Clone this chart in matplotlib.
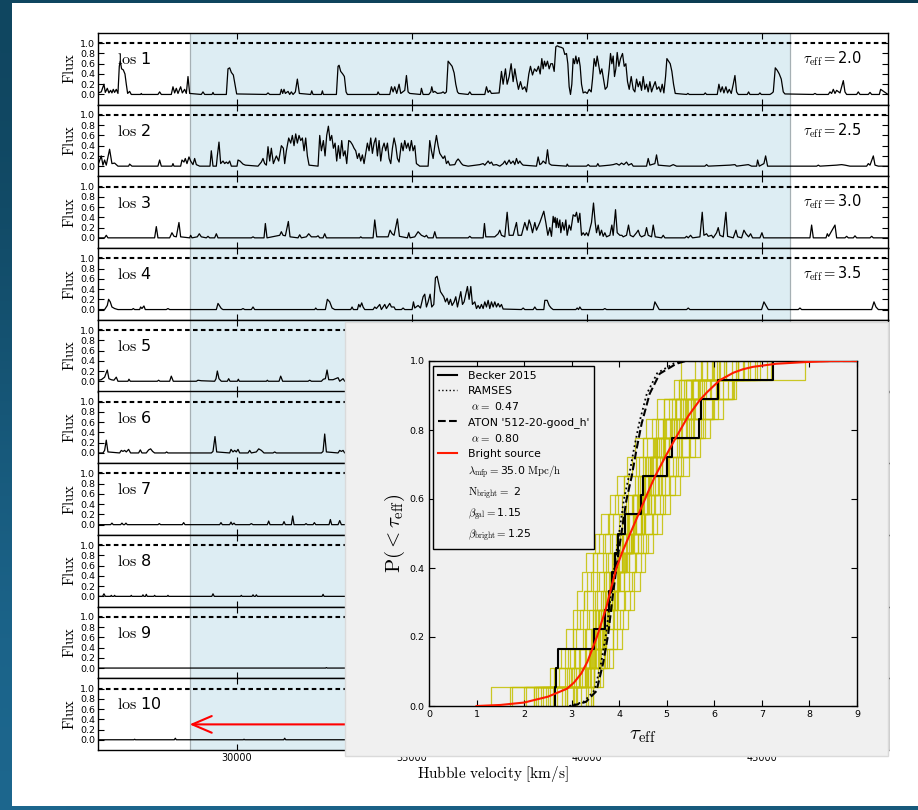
import numpy as np
import matplotlib.pyplot as plt
from matplotlib.patches import Rectangle
from matplotlib.lines import Line2D
from matplotlib.colors import LinearSegmentedColormap

plt.rcParams['mathtext.fontset'] = 'cm'
plt.rcParams['font.family'] = ['DejaVu Sans']

# transmitted flux along each line of sight: (Hubble velocity [km/s], flux)
los1 = [(26038, 0.03), (26133, 0.05), (26210, 0.2), (26248, 0.04), (26305, 0.12), (26352, 0.03),
        (26400, 0.08), (26438, 0.03), (26476, 0.1), (26514, 0.04), (26562, 0.1), (26610, 0.02),
        (26648, 0.55), (26676, 0.65), (26714, 0.5), (26762, 0.48), (26810, 0.4), (26848, 0.2),
        (26886, 0.02), (26943, 0.06), (26990, 0.0), (27257, 0.0), (27276, 0.02), (27295, 0.0),
        (27752, 0.0), (27800, 0.05), (27848, 0.0), (28133, 0.0), (28181, 0.15), (28229, 0.03),
        (28276, 0.12), (28324, 0.02), (28400, 0.15), (28448, 0.03), (28514, 0.1), (28562, 0.02),
        (28610, 0.35), (28657, 0.02), (28990, 0.0), (29038, 0.05), (29086, 0.0), (29295, 0.0),
        (29324, 0.04), (29352, 0.0), (29705, 0.0), (29752, 0.5), (29800, 0.52), (29848, 0.43),
        (29905, 0.38), (29952, 0.2), (30000, 0.01), (30848, 0.0), (30895, 0.03), (30943, 0.0),
        (31238, 0.0), (31276, 0.1), (31314, 0.02), (31352, 0.1), (31390, 0.02), (31467, 0.06),
        (31514, 0.0), (31562, 0.05), (31610, 0.0), (31676, 0.05), (31733, 0.3), (31790, 0.02),
        (32114, 0.0), (32143, 0.07), (32181, 0.0), (32419, 0.0), (32448, 0.07), (32476, 0.0),
        (32848, 0.0), (32895, 0.55), (32924, 0.57), (32971, 0.45), (33029, 0.4), (33076, 0.35),
        (33124, 0.05), (33162, 0.0), (34010, 0.0), (34038, 0.05), (34076, 0.0), (34371, 0.0),
        (34419, 0.15), (34467, 0.05), (34514, 0.15), (34571, 0.02), (34638, 0.2), (34686, 0.02),
        (34800, 0.08), (34848, 0.37), (34895, 0.05), (34943, 0.02), (35248, 0.0), (35276, 0.12),
        (35324, 0.0), (35486, 0.0), (35543, 0.05), (35571, 0.15), (35610, 0.04), (35657, 0.06),
        (35733, 0.02), (35848, 0.03), (35895, 0.05), (35943, 0.02), (35990, 0.05), (36038, 0.65),
        (36095, 0.6), (36152, 0.55), (36210, 0.42), (36257, 0.2), (36305, 0.05), (36343, 0.02),
        (36610, 0.0), (36657, 0.05), (36705, 0.0), (37086, 0.0), (37133, 0.15), (37181, 0.04),
        (37228, 0.08), (37276, 0.02), (37495, 0.03), (37562, 0.45), (37609, 0.2), (37676, 0.5),
        (37724, 0.2), (37781, 0.35), (37838, 0.6), (37895, 0.25), (37943, 0.5), (37990, 0.3),
        (38047, 0.1), (38105, 0.25), (38162, 0.1), (38228, 0.15), (38276, 0.05), (38343, 0.4),
        (38390, 0.55), (38448, 0.38), (38505, 0.5), (38562, 0.45), (38619, 0.55), (38667, 0.4),
        (38714, 0.7), (38752, 0.5), (38790, 0.65), (38828, 0.55), (38876, 0.65), (38924, 0.5),
        (38971, 0.6), (39019, 0.6), (39067, 0.45), (39114, 0.93), (39152, 0.95), (39210, 0.93),
        (39267, 0.92), (39324, 0.9), (39371, 0.78), (39419, 0.8), (39457, 0.6), (39495, 0.15),
        (39533, 0.0), (39571, 0.2), (39609, 0.7), (39647, 0.6), (39686, 0.75), (39724, 0.6),
        (39771, 0.72), (39809, 0.55), (39848, 0.2), (39895, 0.03), (39952, 0.05), (40009, 0.02),
        (40067, 0.1), (40124, 0.05), (40162, 0.3), (40209, 0.7), (40257, 0.55), (40295, 0.75),
        (40333, 0.6), (40381, 0.4), (40428, 0.5), (40476, 0.3), (40524, 0.1), (40581, 0.15),
        (40638, 0.5), (40676, 0.8), (40714, 0.6), (40752, 0.75), (40790, 0.35), (40828, 0.5),
        (40867, 0.82), (40914, 0.55), (40962, 0.7), (41019, 0.8), (41067, 0.55), (41114, 0.6),
        (41162, 0.25), (41210, 0.1), (41267, 0.35), (41324, 0.1), (41371, 0.05), (41419, 0.3),
        (41467, 0.15), (41514, 0.25), (41562, 0.08), (41609, 0.35), (41657, 0.1), (41705, 0.2),
        (41752, 0.05), (41800, 0.25), (41848, 0.05), (41895, 0.15), (41952, 0.25), (42000, 0.1),
        (42057, 0.15), (42105, 0.05), (42152, 0.2), (42200, 0.03), (42248, 0.35), (42286, 0.7),
        (42333, 0.65), (42381, 0.6), (42428, 0.45), (42476, 0.2), (42524, 0.02), (42848, 0.0),
        (42886, 0.02), (42924, 0.0), (43343, 0.0), (43381, 0.03), (43419, 0.0), (43724, 0.0),
        (43771, 0.2), (43819, 0.05), (43867, 0.15), (43914, 0.03), (43971, 0.15), (44019, 0.03),
        (44067, 0.1), (44124, 0.02), (44181, 0.2), (44229, 0.37), (44276, 0.05), (44324, 0.0),
        (44581, 0.0), (44619, 0.05), (44657, 0.0), (44905, 0.0), (44943, 0.03), (44981, 0.0),
        (45228, 0.0), (45276, 0.02), (45324, 0.05), (45381, 0.52), (45438, 0.47), (45495, 0.4),
        (45552, 0.3), (45609, 0.05), (45657, 0.01), (46467, 0.0), (46514, 0.02), (46562, 0.0),
        (46895, 0.0), (46943, 0.05), (46990, 0.02), (47038, 0.1), (47086, 0.02), (47133, 0.08),
        (47229, 0.03), (47324, 0.27), (47371, 0.05), (47419, 0.0), (47705, 0.0), (47752, 0.05),
        (47800, 0.0), (48038, 0.0), (48086, 0.04), (48133, 0.0), (48352, 0.0), (48390, 0.1),
        (48600, 0.0)]

los2 = [(26038, 0.02), (26133, 0.2), (26181, 0.02), (26229, 0.12), (26276, 0.02), (26371, 0.33),
        (26438, 0.05), (26514, 0.06), (26610, 0.0), (26914, 0.0), (26943, 0.04), (27010, 0.0),
        (27752, 0.0), (27800, 0.12), (27848, 0.0), (28152, 0.0), (28181, 0.05), (28210, 0.0),
        (28400, 0.0), (28438, 0.12), (28495, 0.08), (28533, 0.15), (28581, 0.05), (28638, 0.18),
        (28686, 0.1), (28752, 0.03), (28800, 0.15), (28848, 0.03), (28943, 0.0), (29238, 0.0),
        (29276, 0.3), (29324, 0.0), (29419, 0.0), (29448, 0.2), (29495, 0.47), (29543, 0.05),
        (29610, 0.1), (29657, 0.05), (29705, 0.08), (29752, 0.05), (29800, 0.1), (29848, 0.0),
        (30010, 0.0), (30038, 0.12), (30095, 0.1), (30181, 0.04), (30248, 0.02), (30610, 0.0),
        (30705, 0.08), (30752, 0.15), (30800, 0.05), (30848, 0.02), (30895, 0.38), (30943, 0.1),
        (30990, 0.35), (31048, 0.05), (31133, 0.2), (31200, 0.1), (31276, 0.4), (31333, 0.35),
        (31371, 0.05), (31419, 0.3), (31486, 0.55), (31543, 0.45), (31590, 0.6), (31638, 0.4),
        (31686, 0.63), (31733, 0.45), (31781, 0.6), (31829, 0.5), (31876, 0.55), (31924, 0.3),
        (31971, 0.55), (32019, 0.2), (32067, 0.02), (32324, 0.0), (32372, 0.6), (32419, 0.3),
        (32476, 0.5), (32524, 0.2), (32571, 0.6), (32619, 0.78), (32667, 0.5), (32714, 0.6),
        (32762, 0.35), (32810, 0.45), (32857, 0.1), (32905, 0.4), (32952, 0.15), (33000, 0.5),
        (33048, 0.2), (33095, 0.3), (33143, 0.05), (33200, 0.5), (33248, 0.48), (33305, 0.42),
        (33352, 0.35), (33400, 0.3), (33448, 0.15), (33495, 0.25), (33543, 0.1), (33590, 0.22),
        (33638, 0.05), (33686, 0.25), (33733, 0.45), (33781, 0.3), (33829, 0.55), (33876, 0.25),
        (33924, 0.45), (33971, 0.55), (34019, 0.2), (34067, 0.5), (34114, 0.1), (34162, 0.35),
        (34210, 0.45), (34257, 0.3), (34305, 0.45), (34352, 0.15), (34400, 0.05), (34448, 0.35),
        (34495, 0.55), (34543, 0.4), (34590, 0.15), (34638, 0.08), (34705, 0.45), (34752, 0.3),
        (34800, 0.5), (34848, 0.35), (34895, 0.45), (34943, 0.3), (34990, 0.5), (35038, 0.3),
        (35086, 0.4), (35133, 0.05), (35229, 0.0), (35467, 0.0), (35514, 0.5), (35562, 0.3),
        (35610, 0.15), (35657, 0.4), (35705, 0.6), (35752, 0.4), (35800, 0.25), (35848, 0.2),
        (35895, 0.15), (35943, 0.2), (35990, 0.05), (36038, 0.1), (36086, 0.02), (36229, 0.03),
        (36276, 0.1), (36324, 0.14), (36371, 0.1), (36419, 0.05), (36467, 0.02), (36610, 0.0),
        (36943, 0.03), (37038, 0.05), (37086, 0.02), (37133, 0.06), (37181, 0.1), (37228, 0.05),
        (37276, 0.08), (37324, 0.02), (37419, 0.03), (37514, 0.0), (37609, 0.05), (37657, 0.1),
        (37705, 0.03), (37781, 0.12), (37828, 0.05), (37895, 0.1), (37943, 0.03), (37990, 0.15),
        (38038, 0.05), (38086, 0.1), (38133, 0.05), (38181, 0.02), (38562, 0.0), (38609, 0.18),
        (38657, 0.03), (38705, 0.05), (38752, 0.1), (38828, 0.05), (38876, 0.32), (38924, 0.05),
        (38990, 0.02), (39419, 0.0), (39438, 0.04), (39476, 0.0), (39990, 0.0), (40038, 0.03),
        (40086, 0.0), (40276, 0.0), (40314, 0.05), (40352, 0.0), (40657, 0.02), (40752, 0.03),
        (40848, 0.05), (40924, 0.02), (40990, 0.06), (41057, 0.03), (41133, 0.08), (41190, 0.02),
        (41276, 0.05), (41324, 0.0), (41705, 0.0), (41752, 0.15), (41800, 0.02), (41943, 0.05),
        (41990, 0.22), (42038, 0.02), (42371, 0.0), (42467, 0.03), (42562, 0.0), (43371, 0.0),
        (43419, 0.03), (43467, 0.0), (44086, 0.02), (44229, 0.03), (44276, 0.0), (44610, 0.03),
        (44705, 0.0), (44848, 0.0), (44876, 0.12), (44924, 0.0), (45057, 0.05), (45105, 0.2),
        (45162, 0.0), (46562, 0.0), (46610, 0.02), (46657, 0.0), (47133, 0.02), (47276, 0.03),
        (47371, 0.02), (47514, 0.0), (47990, 0.0), (48038, 0.05), (48086, 0.02), (48181, 0.2),
        (48229, 0.02), (48324, 0.0), (48600, 0.0)]

los3 = [(26038, 0.0), (26229, 0.0), (26276, 0.05), (26324, 0.0), (27657, 0.0), (27705, 0.22),
        (27752, 0.0), (28086, 0.0), (28152, 0.1), (28210, 0.03), (28276, 0.02), (28352, 0.3),
        (28400, 0.02), (28657, 0.0), (28686, 0.05), (28724, 0.0), (28876, 0.02), (28933, 0.08),
        (28990, 0.02), (29133, 0.0), (29181, 0.03), (29229, 0.0), (29371, 0.0), (29419, 0.08),
        (29467, 0.0), (30419, 0.0), (30467, 0.02), (30514, 0.0), (30781, 0.0), (30819, 0.28),
        (30867, 0.0), (31229, 0.05), (31276, 0.12), (31324, 0.05), (31390, 0.04), (31476, 0.32),
        (31524, 0.02), (31752, 0.0), (31800, 0.06), (31848, 0.0), (31990, 0.02), (32057, 0.08),
        (32133, 0.02), (32276, 0.02), (32324, 0.04), (32371, 0.0), (32467, 0.0), (32514, 0.08),
        (32562, 0.0), (33514, 0.0), (33543, 0.02), (33581, 0.0), (33895, 0.0), (33943, 0.35),
        (34000, 0.02), (34324, 0.02), (34381, 0.15), (34438, 0.08), (34495, 0.05), (34590, 0.37),
        (34648, 0.03), (34876, 0.0), (34914, 0.1), (34952, 0.0), (35086, 0.02), (35181, 0.12),
        (35276, 0.05), (35371, 0.02), (35419, 0.05), (35467, 0.0), (35610, 0.0), (35657, 0.12),
        (35705, 0.0), (36610, 0.0), (36657, 0.03), (36705, 0.0), (37038, 0.0), (37076, 0.28),
        (37114, 0.02), (37371, 0.02), (37467, 0.08), (37514, 0.15), (37562, 0.05), (37657, 0.02),
        (37724, 0.5), (37781, 0.05), (37895, 0.05), (37990, 0.3), (38038, 0.05), (38133, 0.05),
        (38228, 0.3), (38295, 0.15), (38352, 0.35), (38400, 0.25), (38448, 0.1), (38514, 0.3),
        (38562, 0.15), (38657, 0.3), (38771, 0.52), (38828, 0.3), (38886, 0.05), (38943, 0.2),
        (38990, 0.03), (39038, 0.42), (39067, 0.3), (39095, 0.4), (39124, 0.2), (39152, 0.38),
        (39190, 0.2), (39229, 0.35), (39257, 0.1), (39305, 0.3), (39352, 0.15), (39400, 0.35),
        (39438, 0.05), (39495, 0.25), (39543, 0.15), (39609, 0.45), (39667, 0.42), (39705, 0.5),
        (39752, 0.3), (39800, 0.48), (39848, 0.05), (39895, 0.1), (39943, 0.05), (39990, 0.1),
        (40038, 0.04), (40133, 0.3), (40190, 0.68), (40238, 0.3), (40276, 0.1), (40324, 0.25),
        (40371, 0.05), (40419, 0.15), (40467, 0.03), (40514, 0.1), (40562, 0.02), (40657, 0.05),
        (40714, 0.25), (40752, 0.05), (40819, 0.55), (40867, 0.1), (40943, 0.05), (41000, 0.05),
        (41038, 0.02), (41133, 0.05), (41190, 0.25), (41238, 0.05), (41324, 0.02), (41419, 0.1),
        (41467, 0.15), (41514, 0.05), (41562, 0.02), (41657, 0.05), (41705, 0.2), (41752, 0.05),
        (41848, 0.02), (41895, 0.25), (41952, 0.02), (42133, 0.0), (42181, 0.05), (42229, 0.0),
        (42800, 0.0), (42848, 0.03), (42895, 0.0), (42962, 0.05), (43019, 0.0), (43229, 0.02),
        (43295, 0.5), (43343, 0.05), (43419, 0.08), (43467, 0.03), (43562, 0.05), (43609, 0.0),
        (43705, 0.1), (43752, 0.2), (43800, 0.05), (43895, 0.02), (43971, 0.5), (44019, 0.03),
        (44181, 0.0), (44257, 0.15), (44305, 0.02), (44419, 0.0), (44486, 0.15), (44543, 0.08),
        (44619, 0.02), (44676, 0.08), (44733, 0.0), (44943, 0.0), (45000, 0.1), (45048, 0.0),
        (46371, 0.0), (46419, 0.25), (46467, 0.0), (46829, 0.0), (46867, 0.08), (46905, 0.03),
        (47086, 0.25), (47133, 0.0), (47371, 0.0), (47419, 0.03), (47467, 0.0), (47610, 0.0),
        (47657, 0.04), (47705, 0.0), (48086, 0.0), (48133, 0.03), (48181, 0.0), (48600, 0.0)]

los4 = [(26038, 0.0), (26229, 0.0), (26305, 0.08), (26343, 0.2), (26390, 0.15), (26438, 0.05),
        (26514, 0.02), (26610, 0.0), (27010, 0.0), (27048, 0.02), (27086, 0.0), (27229, 0.0),
        (27257, 0.05), (27295, 0.02), (27352, 0.07), (27390, 0.0), (27990, 0.0), (28038, 0.02),
        (28086, 0.0), (29419, 0.0), (29467, 0.12), (29514, 0.07), (29562, 0.02), (29610, 0.0),
        (30133, 0.0), (30181, 0.02), (30229, 0.0), (30419, 0.0), (30467, 0.05), (30514, 0.0),
        (32229, 0.0), (32257, 0.03), (32295, 0.0), (32533, 0.0), (32590, 0.2), (32657, 0.15),
        (32724, 0.03), (32800, 0.0), (33257, 0.0), (33295, 0.05), (33333, 0.0), (33448, 0.0),
        (33486, 0.1), (33524, 0.05), (33571, 0.13), (33610, 0.05), (33657, 0.0), (33895, 0.0),
        (33943, 0.05), (33990, 0.02), (34086, 0.1), (34133, 0.0), (34229, 0.1), (34276, 0.02),
        (34371, 0.12), (34419, 0.05), (34495, 0.05), (34533, 0.0), (34705, 0.0), (34752, 0.03),
        (34800, 0.0), (35010, 0.0), (35048, 0.15), (35086, 0.03), (35181, 0.08), (35248, 0.03),
        (35324, 0.25), (35371, 0.3), (35419, 0.05), (35467, 0.15), (35524, 0.3), (35571, 0.05),
        (35629, 0.1), (35676, 0.62), (35724, 0.65), (35771, 0.5), (35819, 0.35), (35867, 0.3),
        (35914, 0.25), (35962, 0.15), (36010, 0.22), (36057, 0.1), (36105, 0.2), (36152, 0.08),
        (36210, 0.15), (36257, 0.25), (36305, 0.05), (36352, 0.2), (36400, 0.35), (36448, 0.1),
        (36495, 0.15), (36543, 0.3), (36590, 0.45), (36638, 0.2), (36686, 0.45), (36733, 0.1),
        (36800, 0.15), (36848, 0.02), (36895, 0.08), (36943, 0.02), (36990, 0.1), (37038, 0.02),
        (37086, 0.15), (37133, 0.05), (37181, 0.18), (37228, 0.02), (37276, 0.15), (37324, 0.05),
        (37371, 0.15), (37419, 0.05), (37467, 0.12), (37514, 0.05), (37562, 0.1), (37609, 0.01),
        (38133, 0.0), (38181, 0.03), (38228, 0.0), (38467, 0.0), (38514, 0.05), (38562, 0.0),
        (38771, 0.0), (38800, 0.18), (38867, 0.18), (38924, 0.08), (38981, 0.03), (39038, 0.0),
        (39686, 0.0), (39724, 0.03), (39762, 0.0), (39800, 0.05), (39848, 0.0), (40467, 0.0),
        (40514, 0.02), (40562, 0.0), (41895, 0.0), (41943, 0.15), (42010, 0.07), (42067, 0.0),
        (42848, 0.0), (42895, 0.03), (42943, 0.0), (44990, 0.0), (45057, 0.15), (45114, 0.08),
        (45181, 0.0), (46038, 0.0), (46086, 0.03), (46133, 0.0), (48133, 0.0), (48200, 0.15),
        (48257, 0.05), (48324, 0.0), (48600, 0.0)]

los5 = [(26038, 0.02), (26133, 0.03), (26229, 0.08), (26305, 0.22), (26352, 0.05), (26419, 0.03),
        (26495, 0.02), (26562, 0.08), (26610, 0.0), (26895, 0.0), (26924, 0.04), (26962, 0.0),
        (27733, 0.0), (27771, 0.02), (27810, 0.0), (28086, 0.0), (28133, 0.1), (28190, 0.0),
        (28848, 0.0), (28895, 0.02), (28990, 0.01), (29371, 0.0), (29410, 0.05), (29448, 0.2),
        (29495, 0.05), (29562, 0.0), (29733, 0.0), (29771, 0.05), (29810, 0.0), (30019, 0.0),
        (30048, 0.04), (30076, 0.0), (30848, 0.0), (30876, 0.02), (30905, 0.0), (31210, 0.0),
        (31257, 0.1), (31314, 0.0), (32038, 0.0), (32086, 0.02), (32133, 0.0), (32419, 0.0),
        (32476, 0.04), (32533, 0.05), (32581, 0.22), (32629, 0.03), (32752, 0.03), (32895, 0.07),
        (32943, 0.0), (33038, 0.05), (33086, 0.0), (48600, 0.0)]

los6 = [(26038, 0.0), (26181, 0.0), (26229, 0.05), (26276, 0.25), (26324, 0.02), (26657, 0.0),
        (26705, 0.05), (26752, 0.03), (26800, 0.05), (26848, 0.02), (26914, 0.07), (26971, 0.0),
        (27200, 0.0), (27248, 0.06), (27295, 0.0), (27419, 0.0), (27486, 0.06), (27543, 0.08),
        (27600, 0.03), (27657, 0.0), (27962, 0.0), (28000, 0.02), (28038, 0.0), (29276, 0.0),
        (29324, 0.03), (29381, 0.32), (29429, 0.02), (29800, 0.0), (29838, 0.07), (29895, 0.02),
        (29943, 0.05), (29990, 0.02), (30038, 0.07), (30086, 0.0), (30324, 0.0), (30371, 0.05),
        (30419, 0.0), (30562, 0.02), (30629, 0.08), (30705, 0.05), (30781, 0.0), (31038, 0.0),
        (31086, 0.02), (31133, 0.0), (32419, 0.0), (32467, 0.03), (32514, 0.37), (32562, 0.02),
        (32895, 0.0), (32943, 0.05), (32990, 0.03), (33038, 0.05), (33086, 0.0), (48600, 0.0)]

los7 = [(26038, 0.0), (26400, 0.0), (26438, 0.03), (26476, 0.0), (26686, 0.0), (26724, 0.03),
        (26762, 0.0), (26800, 0.0), (26838, 0.03), (26876, 0.0), (27752, 0.0), (27790, 0.02),
        (27829, 0.0), (28448, 0.0), (28486, 0.04), (28524, 0.0), (29514, 0.0), (29552, 0.04),
        (29590, 0.0), (29800, 0.0), (29838, 0.05), (29876, 0.0), (29924, 0.03), (29962, 0.0),
        (30371, 0.0), (30419, 0.02), (30467, 0.0), (30876, 0.0), (30914, 0.07), (30952, 0.0),
        (31314, 0.0), (31352, 0.06), (31390, 0.0), (31562, 0.0), (31600, 0.17), (31638, 0.0),
        (31943, 0.0), (31981, 0.02), (32019, 0.0), (32181, 0.0), (32219, 0.04), (32257, 0.0),
        (32638, 0.0), (32676, 0.1), (32714, 0.0), (32895, 0.0), (32943, 0.08), (32990, 0.0),
        (48600, 0.0)]

los8 = [(26038, 0.0), (26170, 0.0), (26210, 0.05), (26250, 0.0), (26400, 0.0), (26419, 0.02),
        (26440, 0.0), (26495, 0.0), (26514, 0.02), (26535, 0.0), (26970, 0.0), (26990, 0.02),
        (27010, 0.0), (27300, 0.0), (27324, 0.03), (27350, 0.0), (27395, 0.0), (27419, 0.04),
        (27445, 0.0), (27635, 0.0), (27657, 0.02), (27680, 0.0), (28015, 0.0), (28038, 0.02),
        (28060, 0.0), (29290, 0.0), (29324, 0.05), (29360, 0.0), (30110, 0.0), (30133, 0.02),
        (30155, 0.0), (30440, 0.0), (30467, 0.03), (30495, 0.0), (30535, 0.0), (30562, 0.03),
        (30590, 0.0), (32440, 0.0), (32467, 0.04), (32495, 0.0), (48600, 0.0)]

los9 = [(26038, 0.0), (32540, 0.0), (32562, 0.01), (32585, 0.0), (48600, 0.0)]

los10 = [(26038, 0.0), (27065, 0.0), (27086, 0.01), (27110, 0.0), (28220, 0.0), (28248, 0.03),
         (28275, 0.0), (30190, 0.0), (30210, 0.01), (30230, 0.0), (31345, 0.0), (31371, 0.03),
         (31400, 0.0), (48600, 0.0)]

sightlines = [los1, los2, los3, los4, los5, los6, los7, los8, los9, los10]
tau_eff_text = ['2.0', '2.5', '3.0', '3.5']

v_range = (26040, 48600)
window = (28657, 45800)
flux_ticks = [0.0, 0.2, 0.4, 0.6, 0.8, 1.0]
vel_ticks = [30000, 35000, 40000, 45000]

# cumulative distribution of tau_eff
becker_tau = [2.65, 2.68, 2.72, 3.46, 3.70, 3.78, 3.85, 3.92, 3.98, 4.12, 4.45, 4.50,
              5.00, 5.10, 5.68, 5.72, 6.08, 7.24]

bright_tau = [1.0, 1.5, 2.0, 2.5, 2.9, 3.05, 3.2, 3.33, 3.45, 3.53, 3.6, 3.73, 3.83, 3.94,
              4.07, 4.2, 4.3, 4.45, 4.6, 4.75, 5.0, 5.2, 5.45, 5.69, 5.85, 6.11, 6.4, 6.6,
              6.81, 7.3, 7.93, 8.5, 9.0]
bright_p = [0.0, 0.003, 0.01, 0.027, 0.05, 0.068, 0.094, 0.128, 0.171, 0.2, 0.23, 0.287,
            0.342, 0.40, 0.448, 0.49, 0.522, 0.57, 0.618, 0.665, 0.73, 0.78, 0.84, 0.886,
            0.91, 0.944, 0.966, 0.976, 0.983, 0.992, 0.997, 1.0, 1.0]

aton_tau = [3.0, 3.3, 3.52, 3.66, 3.77, 3.87, 3.98, 4.15, 4.26, 4.36, 4.47, 4.64, 4.85,
            5.2, 5.4, 9.0]
aton_p = [0.0, 0.012, 0.043, 0.123, 0.21, 0.326, 0.441, 0.596, 0.664, 0.741, 0.818, 0.905,
          0.963, 0.992, 1.0, 1.0]

ramses_tau = [2.95, 3.25, 3.48, 3.62, 3.73, 3.83, 3.94, 4.1, 4.21, 4.31, 4.42, 4.58, 4.8,
              5.15, 5.35, 9.0]
ramses_p = [0.0, 0.012, 0.045, 0.125, 0.215, 0.33, 0.445, 0.6, 0.67, 0.745, 0.82, 0.905,
            0.965, 0.993, 1.0, 1.0]

# mock samples of 18 sightlines drawn from the bright-source model
mock_tau = [
    [1.30, 2.54, 2.78, 2.89, 3.02, 3.11, 3.22, 3.31, 3.49, 3.62, 3.80, 3.96, 4.16, 4.34, 4.57, 4.79, 5.15, 5.72],
    [2.00, 2.66, 2.85, 3.03, 3.11, 3.25, 3.32, 3.44, 3.58, 3.77, 3.91, 4.10, 4.27, 4.49, 4.68, 4.95, 5.26, 5.85],
    [1.75, 2.62, 2.92, 3.03, 3.18, 3.25, 3.40, 3.45, 3.66, 3.78, 3.98, 4.10, 4.36, 4.50, 4.78, 4.95, 5.30, 6.05],
    [2.35, 2.74, 2.97, 3.10, 3.23, 3.32, 3.45, 3.53, 3.71, 3.86, 4.05, 4.19, 4.41, 4.59, 4.82, 5.05, 5.41, 5.98],
    [2.20, 2.86, 3.06, 3.23, 3.32, 3.45, 3.54, 3.66, 3.81, 3.99, 4.15, 4.33, 4.51, 4.73, 4.93, 5.19, 5.52, 6.11],
    [2.90, 2.98, 3.08, 3.28, 3.36, 3.50, 3.57, 3.72, 3.84, 4.05, 4.18, 4.40, 4.55, 4.79, 4.96, 5.28, 5.55, 5.75],
    [2.30, 2.95, 3.18, 3.31, 3.45, 3.54, 3.67, 3.76, 3.94, 4.09, 4.28, 4.43, 4.65, 4.83, 5.07, 5.30, 5.66, 6.24],
    [3.50, 3.02, 3.18, 3.38, 3.46, 3.62, 3.68, 3.84, 3.95, 4.17, 4.30, 4.51, 4.66, 4.92, 5.09, 5.39, 5.68, 7.90],
    [2.40, 3.05, 3.29, 3.42, 3.55, 3.65, 3.78, 3.87, 4.06, 4.20, 4.40, 4.55, 4.77, 4.96, 5.20, 5.42, 5.79, 6.37],
    [3.30, 3.12, 3.30, 3.50, 3.57, 3.72, 3.80, 3.95, 4.07, 4.28, 4.42, 4.63, 4.79, 5.05, 5.22, 5.50, 5.82, 6.20],
    [2.50, 3.15, 3.39, 3.52, 3.66, 3.76, 3.89, 3.98, 4.17, 4.32, 4.52, 4.67, 4.89, 5.08, 5.32, 5.55, 5.92, 6.50],
    [2.60, 3.27, 3.47, 3.65, 3.75, 3.89, 3.98, 4.11, 4.26, 4.46, 4.62, 4.81, 4.99, 5.22, 5.43, 5.70, 6.03, 6.63],
    [2.20, 3.32, 3.50, 3.70, 3.78, 3.95, 4.02, 4.17, 4.30, 4.52, 4.66, 4.88, 5.03, 5.29, 5.47, 5.77, 6.08, 6.85],
    [2.70, 3.35, 3.60, 3.73, 3.87, 3.98, 4.11, 4.20, 4.40, 4.55, 4.76, 4.91, 5.13, 5.33, 5.57, 5.80, 6.18, 6.76],
    [2.80, 3.46, 3.68, 3.86, 3.96, 4.11, 4.20, 4.34, 4.49, 4.69, 4.85, 5.05, 5.23, 5.47, 5.68, 5.95, 6.28, 6.89],
    [3.45, 3.48, 3.75, 3.87, 4.02, 4.12, 4.27, 4.35, 4.57, 4.70, 4.93, 5.07, 5.30, 5.49, 5.76, 5.97, 6.38, 6.70],
    [2.90, 3.56, 3.79, 3.96, 4.07, 4.22, 4.31, 4.45, 4.61, 4.80, 4.97, 5.17, 5.35, 5.59, 5.80, 6.07, 6.41, 6.95],
    [3.40, 3.66, 3.87, 4.05, 4.18, 4.31, 4.43, 4.54, 4.72, 4.90, 5.06, 5.27, 5.47, 5.70, 5.90, 6.18, 6.45, 6.60],
    [2.25, 3.40, 3.42, 3.60, 3.62, 3.90, 3.95, 3.98, 4.30, 4.35, 4.40, 4.70, 4.72, 4.80, 5.30, 5.35, 5.90, 6.00],
    [3.30, 3.35, 3.50, 3.55, 3.58, 3.80, 3.82, 4.20, 4.25, 4.28, 4.60, 4.62, 4.90, 4.95, 5.40, 5.45, 5.50, 5.60],
    [2.05, 2.90, 3.55, 3.60, 3.75, 3.78, 4.00, 4.05, 4.40, 4.45, 4.48, 4.52, 5.00, 5.05, 5.10, 5.70, 5.75, 6.50],
    [3.45, 3.48, 3.70, 3.72, 3.74, 3.95, 3.98, 4.00, 4.25, 4.55, 4.58, 4.60, 4.65, 4.75, 5.15, 5.20, 5.25, 5.30],
    [2.55, 3.00, 3.05, 3.40, 3.45, 3.85, 3.88, 3.92, 4.15, 4.18, 4.50, 4.55, 4.85, 4.88, 5.25, 5.60, 5.65, 6.25],
    [3.20, 3.60, 3.62, 3.65, 3.90, 3.92, 4.10, 4.12, 4.45, 4.48, 4.50, 4.75, 4.78, 5.05, 5.55, 5.58, 6.10, 6.45],
    [1.70, 3.10, 3.15, 3.50, 3.52, 3.70, 3.72, 4.05, 4.08, 4.35, 4.38, 4.65, 4.68, 4.95, 4.98, 5.50, 5.52, 7.20],
    [3.10, 3.38, 3.52, 3.64, 3.76, 3.88, 4.00, 4.14, 4.30, 4.48, 4.66, 4.84, 5.04, 5.26, 5.50, 5.76, 6.08, 6.50],
    [2.85, 3.28, 3.44, 3.58, 3.70, 3.84, 3.98, 4.14, 4.32, 4.52, 4.74, 4.96, 5.20, 5.46, 5.72, 6.00, 6.40, 7.10],
    [3.35, 3.48, 3.58, 3.68, 3.78, 3.88, 3.98, 4.08, 4.20, 4.34, 4.48, 4.62, 4.78, 4.95, 5.15, 5.40, 5.70, 6.10],
    [2.45, 3.15, 3.37, 3.48, 3.62, 3.70, 3.82, 3.90, 4.02, 4.12, 4.27, 4.40, 4.57, 4.72, 4.92, 5.10, 5.37, 5.95],
    [3.05, 3.22, 3.40, 3.55, 3.65, 3.77, 3.85, 3.97, 4.05, 4.18, 4.30, 4.47, 4.60, 4.78, 4.95, 5.17, 5.40, 5.85],
]


def cdf_steps(values):
    t = np.sort(np.asarray(values, dtype=float))
    p = np.arange(1, len(t) + 1) / len(t)
    return np.r_[t[0], t], np.r_[0.0, p]


W, H = 918, 810
fig = plt.figure(figsize=(W / 100, H / 100), dpi=100)

# slide background behind the white page
bg = fig.add_axes([0, 0, 1, 1], zorder=-10)
bg_cmap = LinearSegmentedColormap.from_list('slide', ['#0b3a4f', '#1d6890'])
bg.imshow([[0.25, 0.0], [1.0, 0.7]], cmap=bg_cmap, aspect='auto',
          interpolation='bicubic', extent=[0, 1, 0, 1])
bg.axis('off')
fig.add_artist(Rectangle((12 / W, 1 - 806 / H), 1, 803 / H, transform=fig.transFigure,
                         facecolor='white', edgecolor='none', zorder=-5))

# stacked spectra
left, right = 98 / W, 888 / W
top, bottom = 1 - 33 / H, 1 - 750 / H
ph = (top - bottom) / len(sightlines)
panels = []
for i, data in enumerate(sightlines):
    ax = fig.add_axes([left, top - (i + 1) * ph, right - left, ph])
    vel, flux = np.array(data).T
    ax.axvspan(*window, facecolor='#ddedf3', edgecolor='none', zorder=0)
    for edge in window:
        ax.axvline(edge, color='#a6b0b4', lw=0.9, zorder=0.5)
    ax.axhline(1.0, color='k', lw=1.5, ls=(0, (2.2, 1.6)), zorder=2)
    ax.plot(vel, flux, color='k', lw=0.9, zorder=3)
    ax.set_xlim(*v_range)
    ax.set_ylim(-0.2, 1.2)
    ax.set_yticks(flux_ticks)
    ax.set_yticklabels(['%.1f' % t for t in flux_ticks])
    ax.set_xticks(vel_ticks)
    ax.tick_params(direction='in', top=True, right=True, length=4, width=0.8,
                   labelsize=6.8, pad=2)
    for s in ax.spines.values():
        s.set_linewidth(1.0)
    ax.set_ylabel(r'$\mathrm{Flux}$', fontsize=10.5, labelpad=2)
    ax.text(0.024, 0.69, r'$\mathrm{los}$ %d' % (i + 1), transform=ax.get_yaxis_transform(),
            fontsize=11.5, va='center', ha='left', zorder=4)
    if i < len(tau_eff_text):
        ax.text(0.892, 0.7, r'$\tau_{\rm eff}=$' + tau_eff_text[i],
                transform=ax.get_yaxis_transform(), fontsize=10.5, va='center', ha='left')
    if i < len(sightlines) - 1:
        ax.tick_params(labelbottom=False)
    panels.append(ax)

last = panels[-1]
last.set_xlabel(r'$\mathrm{Hubble\ velocity\ [km/s]}$', fontsize=11, labelpad=1)
last.tick_params(axis='x', labelsize=7)
last.annotate('', xy=(window[0], 0.3), xytext=(34500, 0.3),
              arrowprops=dict(arrowstyle='->,head_length=1.4,head_width=0.6', color='red',
                              lw=1.5, shrinkA=0, shrinkB=0), zorder=5)

# inset with the tau_eff distribution
fig.add_artist(Rectangle((345 / W, 1 - 756 / H), (888 - 345) / W, (756 - 322) / H,
                         transform=fig.transFigure, facecolor='#f0f0f0',
                         edgecolor='#dadada', lw=1, zorder=2))
cax = fig.add_axes([429 / W, 1 - 706 / H, 428 / W, 345 / H], zorder=3)
cax.patch.set_alpha(0)

for sample in mock_tau:
    x, y = cdf_steps(sample)
    cax.plot(x, y, drawstyle='steps-post', color='#c4c000', lw=0.9, alpha=0.85, zorder=1)

x, y = cdf_steps(becker_tau)
cax.plot(x, y, drawstyle='steps-post', color='k', lw=1.5, zorder=4)
cax.plot(ramses_tau, ramses_p, color='k', ls=':', lw=1.3, zorder=3)
cax.plot(aton_tau, aton_p, color='k', ls='--', lw=1.5, zorder=3)
cax.plot(bright_tau, bright_p, color='#ff1a00', lw=1.5, zorder=5)

cax.set_xlim(0, 9)
cax.set_ylim(0, 1)
cax.set_xticks(range(10))
cax.set_yticks(flux_ticks)
cax.set_yticklabels(['%.1f' % t for t in flux_ticks])
cax.tick_params(direction='in', top=True, right=True, length=4, width=0.8,
                labelsize=6.8, pad=3)
for s in cax.spines.values():
    s.set_linewidth(1.0)
cax.set_xlabel(r'$\tau_{\rm eff}$', fontsize=15, labelpad=4)
cax.set_ylabel(r'$\mathrm{P}(<\tau_{\rm eff})$', fontsize=15, labelpad=2)

blank = Line2D([], [], color='none')
handles = [Line2D([], [], color='k', lw=1.5),
           Line2D([], [], color='k', ls=':', lw=1.0),
           blank,
           Line2D([], [], color='k', ls='--', lw=1.5),
           blank,
           Line2D([], [], color='#ff1a00', lw=1.5),
           blank, blank, blank, blank]
labels = ['Becker 2015',
          'RAMSES',
          r' $\alpha=$ 0.47',
          "ATON '512-20-good_h'",
          r' $\alpha=$ 0.80',
          'Bright source',
          r'$\lambda_{\rm mfp}=$35.0 $\rm Mpc/h$',
          r'$\rm N_{bright}=$ 2',
          r'$\beta_{\rm gal}=$1.15',
          r'$\beta_{\rm bright}=$1.25']
leg = cax.legend(handles, labels, loc='upper left', bbox_to_anchor=(0.009, 0.986),
                 borderaxespad=0, fontsize=7.8, labelspacing=0.42, handlelength=1.7,
                 handletextpad=1.0, fancybox=False, framealpha=1, borderpad=0.5)
leg.get_frame().set_edgecolor('k')
leg.get_frame().set_facecolor('#f0f0f0')
leg.get_frame().set_linewidth(1.0)

fig.savefig('out.png', dpi=100)
